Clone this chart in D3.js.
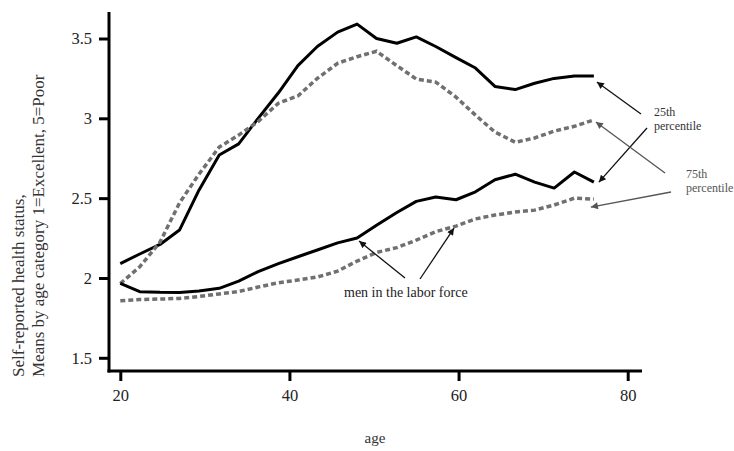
<!DOCTYPE html>
<html><head><meta charset="utf-8">
<script src="https://cdn.jsdelivr.net/npm/d3@7/dist/d3.min.js"></script>
<style>body{margin:0;background:#fff}svg{display:block}text{font-family:"Liberation Serif","Times New Roman",serif}</style>
</head><body>
<svg id="c" width="734" height="451"></svg>
<script>
// ---- data ----
const ages = [20, 22.3, 24.7, 27, 29.3, 31.7, 34, 36.3, 38.7, 41, 43.3, 45.7, 48, 50.3, 52.7, 55, 57.3, 59.7, 62, 64.3, 66.7, 69, 71.3, 73.7, 76];
const upper25 = [2.09, 2.15, 2.21, 2.30, 2.55, 2.77, 2.84, 3.00, 3.16, 3.33, 3.45, 3.54, 3.59, 3.50, 3.47, 3.51, 3.45, 3.38, 3.315, 3.20, 3.18, 3.22, 3.25, 3.265, 3.265];
const upper75 = [1.965, 2.07, 2.225, 2.47, 2.65, 2.82, 2.895, 2.98, 3.095, 3.14, 3.25, 3.345, 3.386, 3.42, 3.33, 3.246, 3.227, 3.133, 3.02, 2.914, 2.85, 2.877, 2.92, 2.95, 2.99];
const labor25 = [1.966, 1.914, 1.91, 1.909, 1.918, 1.935, 1.98, 2.04, 2.09, 2.133, 2.175, 2.22, 2.25, 2.33, 2.41, 2.48, 2.507, 2.49, 2.54, 2.615, 2.65, 2.60, 2.563, 2.664, 2.60];
const labor75 = [1.857, 1.865, 1.868, 1.872, 1.884, 1.90, 1.915, 1.943, 1.97, 1.987, 2.006, 2.043, 2.106, 2.16, 2.19, 2.237, 2.29, 2.325, 2.37, 2.394, 2.413, 2.425, 2.457, 2.50, 2.494];
const xTicks = [20, 40, 60, 80];
const yTicks = [1.5, 2, 2.5, 3, 3.5];
const yTickLabels = ["1.5", "2", "2.5", "3", "3.5"];

// ---- layout ----
const svg = d3.select("#c");
const x = d3.scaleLinear().domain([20, 80]).range([120.3, 627.7]);
const y = d3.scaleLinear().domain([1.5, 3.5]).range([357.8, 38.5]);
const axisX = 109, axisY = 371;

// axes
const gy = svg.append("g").attr("transform", `translate(${axisX},0)`)
  .call(d3.axisLeft(y).tickValues(yTicks).tickFormat((d,i)=>yTickLabels[i]).tickSize(10).tickSizeOuter(0).tickPadding(7));
gy.select(".domain").remove();
gy.selectAll(".tick line").attr("stroke","#000").attr("stroke-width",3);
gy.selectAll(".tick text").attr("font-size",16.5).attr("fill","#222").attr("font-family","Liberation Serif");

const gx = svg.append("g").attr("transform", `translate(0,${axisY})`)
  .call(d3.axisBottom(x).tickValues(xTicks).tickFormat(d3.format("d")).tickSize(10).tickSizeOuter(0).tickPadding(8));
gx.select(".domain").remove();
gx.selectAll(".tick line").attr("stroke","#000").attr("stroke-width",3);
gx.selectAll(".tick text").attr("font-size",16.5).attr("fill","#222").attr("font-family","Liberation Serif");

svg.append("line").attr("x1",axisX).attr("x2",axisX).attr("y1",12).attr("y2",axisY+1.5).attr("stroke","#000").attr("stroke-width",3);
svg.append("line").attr("x1",axisX-1.5).attr("x2",642).attr("y1",axisY).attr("y2",axisY).attr("stroke","#000").attr("stroke-width",3);

// axis titles
svg.append("text").attr("x",375).attr("y",443).attr("text-anchor","middle").attr("font-size",15).attr("fill","#333").text("age");
const yt = svg.append("text").attr("transform","translate(0,377) rotate(-90)").attr("font-size",17).attr("fill","#333");
yt.append("tspan").attr("x",0).attr("y",24).text("Self-reported health status,");
yt.append("tspan").attr("x",0).attr("y",44).text("Means by age category 1=Excellent, 5=Poor");

// lines
const line = d3.line().x((d,i)=>x(ages[i])).y(d=>y(d));
function drawSolid(vals){
  svg.append("path").datum(vals).attr("d",line).attr("fill","none").attr("stroke","#000").attr("stroke-width",3).attr("stroke-linejoin","round");
}
function drawDashed(vals){
  svg.append("path").datum(vals).attr("d",line).attr("fill","none").attr("stroke","#707070").attr("stroke-width",3.5).attr("stroke-dasharray","5,3");
}
drawSolid(upper25); drawDashed(upper75); drawSolid(labor25); drawDashed(labor75);

// arrows
const defs = svg.append("defs");
function marker(id, color){
  defs.append("marker").attr("id",id).attr("viewBox","0 0 10 10").attr("refX",10).attr("refY",5)
    .attr("markerWidth",9).attr("markerHeight",7).attr("markerUnits","userSpaceOnUse").attr("orient","auto")
    .append("path").attr("d","M0,0 L10,5 L0,10 z").attr("fill",color);
}
marker("ah","#111"); marker("ahg","#555");
function arrow(x1,y1,x2,y2,color,m){
  svg.append("line").attr("x1",x1).attr("y1",y1).attr("x2",x2).attr("y2",y2)
    .attr("stroke",color).attr("stroke-width",1.3).attr("marker-end",`url(#${m})`);
}
const last = ages.length-1;
arrow(405,278, x(ages[12])+2, y(labor25[12])+3, "#111","ah");
arrow(420,279, x(ages[17])-2, y(labor75[17])+2, "#111","ah");
arrow(641,114, x(ages[last])+3, y(upper25[last])+6, "#111","ah");
arrow(647,128, x(ages[last])+5, y(labor25[last]), "#111","ah");
arrow(665,173, x(ages[last])+2, y(upper75[last])+2, "#555","ahg");
arrow(671,192, x(ages[last])-3, y(labor75[last])+8, "#555","ahg");

// annotation texts
svg.append("text").attr("x",344).attr("y",297).attr("font-size",14).attr("fill","#222").text("men in the labor force");
svg.append("text").attr("x",654).attr("y",116).attr("font-size",12).attr("fill","#333").text("25th");
svg.append("text").attr("x",654).attr("y",130).attr("font-size",12).attr("fill","#333").text("percentile");
svg.append("text").attr("x",686).attr("y",178).attr("font-size",12).attr("fill","#555").text("75th");
svg.append("text").attr("x",686).attr("y",192).attr("font-size",12).attr("fill","#555").text("percentile");
</script>
</body></html>
